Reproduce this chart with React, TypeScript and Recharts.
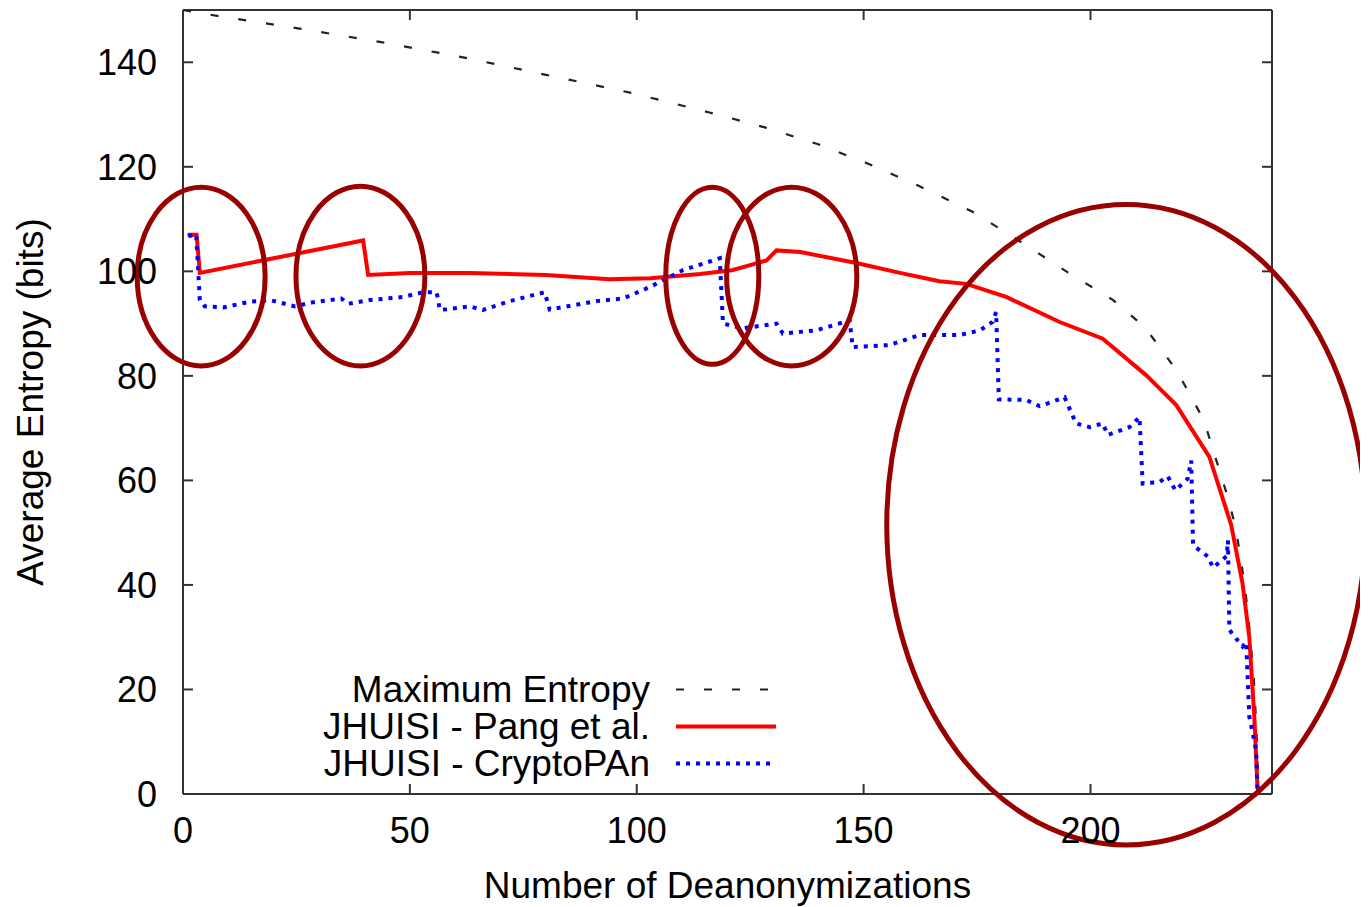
import React from 'react';
import { LineChart, Line, XAxis, YAxis, ReferenceArea, ReferenceLine, Legend } from 'recharts';

const FONT = '"Liberation Sans", Arial, Helvetica, sans-serif';

const xTicks = [0, 50, 100, 150, 200];
const yTicks = [0, 20, 40, 60, 80, 100, 120, 140];
const xDomain = [0, 240];
const yDomain = [0, 150];

const maxEntropy = [
  { x: 0, y: 150 }, { x: 8, y: 148.8 }, { x: 26, y: 146.4 }, { x: 44, y: 143.8 },
  { x: 62, y: 140.9 }, { x: 80, y: 137.6 }, { x: 99, y: 134.1 }, { x: 116, y: 130.4 },
  { x: 128, y: 127.6 }, { x: 140, y: 124.3 }, { x: 151, y: 120.6 }, { x: 162, y: 116.4 },
  { x: 174, y: 111.4 }, { x: 184, y: 106 }, { x: 195, y: 99.8 }, { x: 205, y: 94.5 },
  { x: 212, y: 89.3 }, { x: 219, y: 81 }, { x: 225, y: 71.5 }, { x: 230, y: 57.5 },
  { x: 232, y: 51 }, { x: 233, y: 45.5 }, { x: 234, y: 40 }, { x: 235, y: 32 },
  { x: 236, y: 22 }, { x: 236.6, y: 12 }, { x: 237, y: 0 },
];

const pangEtAl = [
  { x: 1, y: 107 }, { x: 3, y: 107 }, { x: 3.7, y: 99.7 }, { x: 39.7, y: 105.9 },
  { x: 40.8, y: 99.3 }, { x: 50, y: 99.7 }, { x: 63, y: 99.7 }, { x: 80, y: 99.3 },
  { x: 94, y: 98.5 }, { x: 103, y: 98.7 }, { x: 114, y: 99.5 }, { x: 121, y: 100.2 },
  { x: 125, y: 101.2 }, { x: 128.6, y: 102.1 }, { x: 130.8, y: 104 }, { x: 136, y: 103.7 },
  { x: 148.4, y: 101.6 }, { x: 158, y: 99.7 }, { x: 166.7, y: 98.1 }, { x: 172.6, y: 97.6 },
  { x: 181.4, y: 95.1 }, { x: 193.2, y: 90.3 }, { x: 202.7, y: 87.1 }, { x: 212.3, y: 80.1 },
  { x: 218.9, y: 74.4 }, { x: 226.2, y: 64.5 }, { x: 231, y: 51.5 }, { x: 233.5, y: 40.3 },
  { x: 235, y: 30 }, { x: 236.1, y: 14.8 }, { x: 236.8, y: 1.4 }, { x: 237, y: 0 },
];

const cryptoPAn = [
  { x: 1.2, y: 106.7 }, { x: 2.9, y: 107.1 }, { x: 3.7, y: 94.5 }, { x: 4.8, y: 93.3 },
  { x: 8.9, y: 93.1 }, { x: 14.8, y: 94.2 }, { x: 19.2, y: 94.5 }, { x: 24.7, y: 93.3 },
  { x: 28.7, y: 94.1 }, { x: 34.9, y: 94.8 }, { x: 36.4, y: 93.8 }, { x: 41.2, y: 94.5 },
  { x: 48.5, y: 95.1 }, { x: 52.9, y: 96.0 }, { x: 55.9, y: 96.0 }, { x: 56.6, y: 92.6 },
  { x: 63.2, y: 93.3 }, { x: 66.1, y: 92.6 }, { x: 72, y: 94.3 }, { x: 79.7, y: 96.0 },
  { x: 80.8, y: 92.7 }, { x: 91.1, y: 94.3 }, { x: 97, y: 94.8 }, { x: 102.9, y: 97.0 },
  { x: 110.1, y: 100.2 }, { x: 118.3, y: 102.5 }, { x: 119, y: 90 }, { x: 123.4, y: 89.1 },
  { x: 130.8, y: 90 }, { x: 132.2, y: 88.1 }, { x: 139.5, y: 88.7 }, { x: 146.9, y: 90.6 },
  { x: 147.6, y: 85.5 }, { x: 155.7, y: 85.9 }, { x: 162.3, y: 87.8 }, { x: 171.1, y: 87.8 },
  { x: 175.6, y: 88.7 }, { x: 178.4, y: 90.3 }, { x: 179.2, y: 92.2 }, { x: 179.8, y: 75.5 },
  { x: 185.8, y: 75.4 }, { x: 188.8, y: 74.2 }, { x: 194.3, y: 75.9 }, { x: 196.8, y: 70.9 },
  { x: 199.8, y: 70.2 }, { x: 202.7, y: 70.9 }, { x: 203.8, y: 68.7 }, { x: 208.6, y: 70.2 },
  { x: 210.8, y: 72.1 }, { x: 211.5, y: 59.4 }, { x: 215.2, y: 59.7 }, { x: 217, y: 60.8 },
  { x: 218.7, y: 58.1 }, { x: 221.4, y: 60.3 }, { x: 222.2, y: 63.8 }, { x: 222.6, y: 47.6 },
  { x: 225.9, y: 45.4 }, { x: 227, y: 43.3 }, { x: 230, y: 45.5 }, { x: 230.3, y: 48.5 },
  { x: 230.6, y: 31.4 }, { x: 233.5, y: 28.2 }, { x: 234.3, y: 29.1 }, { x: 235, y: 14.8 },
  { x: 236.5, y: 8.4 }, { x: 236.8, y: 0.8 }, { x: 237, y: 0 },
];

// highlighted regions (annotation ellipses) in data units
const highlightRegions = [
  { x1: -10.1, x2: 18.1, y1: 81.9, y2: 116.1 },
  { x1: 24.9, x2: 53.3, y1: 81.9, y2: 116.3 },
  { x1: 106.4, x2: 126.9, y1: 82.2, y2: 116.1 },
  { x1: 119.8, x2: 148.5, y1: 81.9, y2: 116.1 },
  { x1: 155.1, x2: 260.6, y1: -9.75, y2: 112.8 },
];

const seriesInfo = [
  { name: 'Maximum Entropy', color: '#222222', width: 2.2, dash: '8 20' },
  { name: 'JHUISI - Pang et al.', color: '#ff0000', width: 4, dash: undefined },
  { name: 'JHUISI - CryptoPAn', color: '#0000ff', width: 4, dash: '4 6' },
];

const axisStroke = '#333333';
const TICK_LEN = 10;

const EllipseShape = (props: any) => {
  const { x, y, width, height } = props;
  if (x == null || y == null) return null;
  return (
    <ellipse
      cx={x + width / 2}
      cy={y + height / 2}
      rx={Math.abs(width) / 2}
      ry={Math.abs(height) / 2}
      fill="none"
      stroke="#990000"
      strokeWidth={5}
    />
  );
};

// inward ticks at both ends of a vertical reference line (bottom and top borders)
const VerticalTickShape = (props: any) => {
  const { x1, y1, y2 } = props;
  if (x1 == null) return null;
  const lo = Math.max(y1, y2);
  const hi = Math.min(y1, y2);
  return (
    <g>
      <line x1={x1} x2={x1} y1={lo} y2={lo - TICK_LEN} stroke={axisStroke} strokeWidth={2} />
      <line x1={x1} x2={x1} y1={hi} y2={hi + TICK_LEN} stroke={axisStroke} strokeWidth={2} />
    </g>
  );
};

// inward ticks at both ends of a horizontal reference line (left and right borders)
const HorizontalTickShape = (props: any) => {
  const { x1, x2, y1 } = props;
  if (y1 == null) return null;
  const l = Math.min(x1, x2);
  const r = Math.max(x1, x2);
  return (
    <g>
      <line x1={l} x2={l + TICK_LEN} y1={y1} y2={y1} stroke={axisStroke} strokeWidth={2} />
      <line x1={r} x2={r - TICK_LEN} y1={y1} y2={y1} stroke={axisStroke} strokeWidth={2} />
    </g>
  );
};

const renderLegend = () => (
  <div style={{ fontFamily: FONT, fontSize: 37, color: '#000' }}>
    {seriesInfo.map((s) => (
      <div key={s.name} style={{ display: 'flex', alignItems: 'center', height: 37 }}>
        <span style={{ width: 350, textAlign: 'right', whiteSpace: 'nowrap', lineHeight: '37px' }}>{s.name}</span>
        <svg width={110} height={37} style={{ marginLeft: 26 }}>
          <line x1={0} x2={100} y1={18.5} y2={18.5} stroke={s.color} strokeWidth={s.width} strokeDasharray={s.dash} />
        </svg>
      </div>
    ))}
  </div>
);

const YLabel = (props: any) => {
  const vb = props.viewBox || { x: 0, y: 0, width: 0, height: 0 };
  const cx = vb.x + 22;
  const cy = vb.y + vb.height / 2;
  return (
    <text x={cx} y={cy} transform={`rotate(-90 ${cx} ${cy})`} textAnchor="middle" dy="0.35em"
      fontFamily={FONT} fontSize={37} fill="#000">
      Average Entropy (bits)
    </text>
  );
};

const XLabel = (props: any) => {
  const vb = props.viewBox || { x: 0, y: 0, width: 0, height: 0 };
  return (
    <text x={vb.x + vb.width / 2} y={vb.y + 104} textAnchor="middle" fontFamily={FONT} fontSize={37} fill="#000">
      Number of Deanonymizations
    </text>
  );
};

const tickStyle = { fontSize: 36, fill: '#000', fontFamily: FONT };

export default function App() {
  return (
    <LineChart width={1360} height={899} margin={{ top: 2, right: 96, bottom: 0, left: 0 }}>
      <XAxis
        dataKey="x"
        type="number"
        domain={xDomain}
        ticks={xTicks}
        allowDataOverflow
        height={113}
        tickSize={0}
        tickMargin={23}
        tick={tickStyle}
        tickLine={false}
        axisLine={{ stroke: axisStroke, strokeWidth: 2 }}
        label={{ content: XLabel }}
      />
      <YAxis
        type="number"
        domain={yDomain}
        ticks={yTicks}
        allowDataOverflow
        width={175}
        tickSize={0}
        tickMargin={26}
        tick={tickStyle}
        tickLine={false}
        axisLine={{ stroke: axisStroke, strokeWidth: 2 }}
        label={{ content: YLabel }}
      />
      {xTicks.map((t) => (
        <ReferenceLine key={`xt${t}`} x={t} shape={VerticalTickShape} />
      ))}
      {yTicks.map((t) => (
        <ReferenceLine key={`yt${t}`} y={t} shape={HorizontalTickShape} />
      ))}
      <ReferenceLine x={xDomain[1]} stroke={axisStroke} strokeWidth={2} />
      <ReferenceLine y={yDomain[1]} stroke={axisStroke} strokeWidth={2} />
      <Legend
        content={renderLegend}
        layout="horizontal"
        verticalAlign="middle"
        align="center"
        wrapperStyle={{ left: 292, top: 663, width: 520, height: 111 }}
      />
      <Line data={maxEntropy} dataKey="y" name={seriesInfo[0].name} type="linear" stroke={seriesInfo[0].color}
        strokeWidth={seriesInfo[0].width} strokeDasharray={seriesInfo[0].dash} dot={false} isAnimationActive={false} />
      <Line data={pangEtAl} dataKey="y" name={seriesInfo[1].name} type="linear" stroke={seriesInfo[1].color}
        strokeWidth={seriesInfo[1].width} dot={false} isAnimationActive={false} />
      <Line data={cryptoPAn} dataKey="y" name={seriesInfo[2].name} type="linear" stroke={seriesInfo[2].color}
        strokeWidth={seriesInfo[2].width} strokeDasharray={seriesInfo[2].dash} dot={false} isAnimationActive={false} />
      {highlightRegions.map((r, i) => (
        <ReferenceArea key={i} x1={r.x1} x2={r.x2} y1={r.y1} y2={r.y2} ifOverflow="visible"
          shape={EllipseShape} zIndex={1000} />
      ))}
    </LineChart>
  );
}
